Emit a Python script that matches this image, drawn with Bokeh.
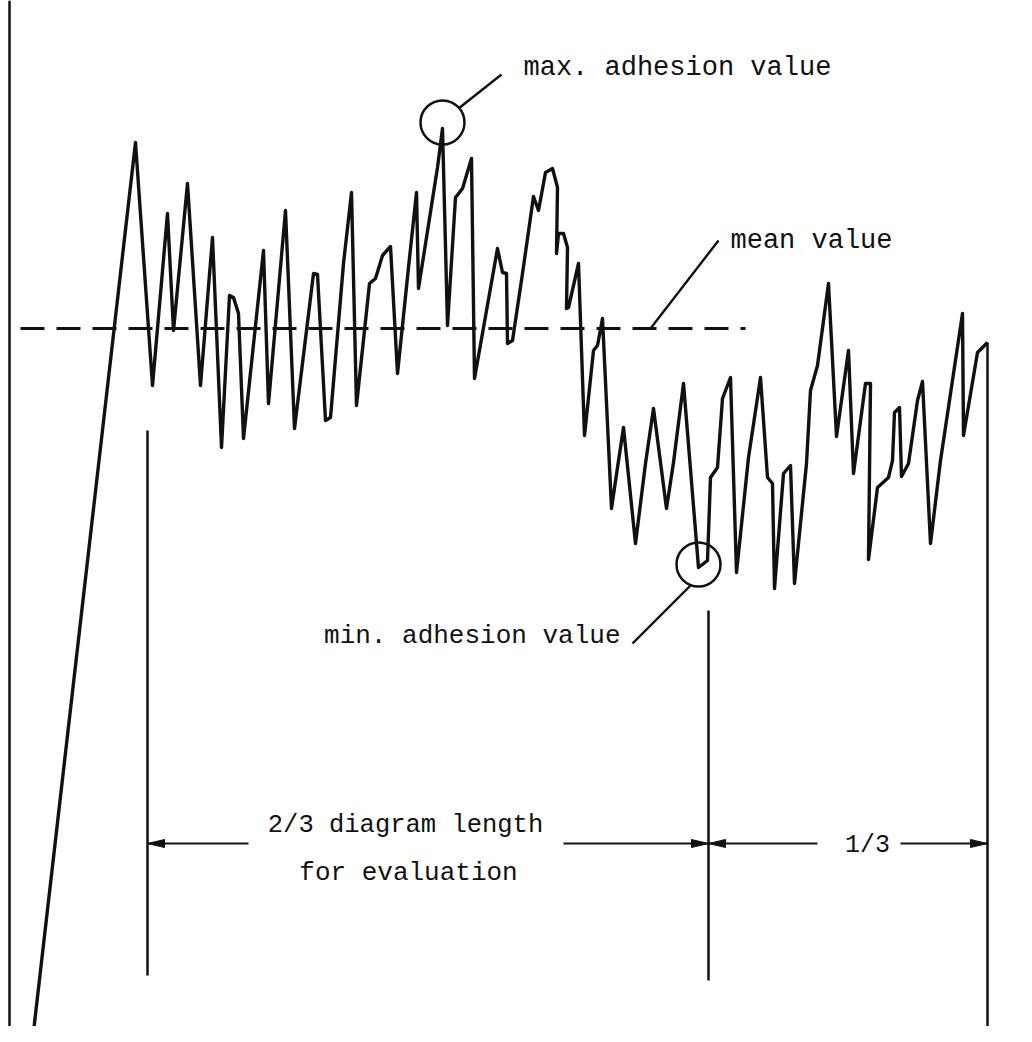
from bokeh.plotting import figure
from bokeh.models import Range1d, Label
from bokeh.embed import file_html
from bokeh.resources import INLINE

# ---------------- data (time / force, arbitrary units) ----------------
time = [32, 135, 152, 167, 173, 187, 200, 212, 221, 229, 233, 238, 243, 263, 268,
        285, 294, 313, 317, 325, 330, 343, 351, 356, 369, 375, 382, 390, 397, 408,
        416, 418, 437, 442, 447, 455, 462, 471, 474, 497, 502, 506, 507, 512, 522,
        533, 538, 545, 552, 557, 556, 558, 563, 567, 566, 568, 578, 584, 593, 597,
        602, 611, 617, 623, 635, 645, 653, 666, 673, 683, 698, 707, 710, 717, 722,
        730, 736, 748, 760, 767, 772, 774, 783, 790, 794, 806, 810, 817, 828, 836,
        848, 853, 865, 870, 868, 877, 888, 892, 894, 899, 901, 908, 917, 922, 930,
        940, 962, 963, 977, 987]
force = [2, 900, 657, 829, 712, 859, 657, 805, 595, 747, 745, 729, 604, 792, 639,
         832, 614, 769, 768, 622, 625, 779, 850, 637, 759, 764, 787, 796, 669, 775,
         850, 754, 875, 914, 717, 845, 854, 884, 664, 794, 770, 769, 699, 702, 769,
         846, 832, 870, 874, 855, 789, 809, 809, 795, 734, 735, 779, 607, 692, 697,
         724, 534, 575, 615, 499, 579, 634, 534, 580, 659, 475, 482, 565, 575, 644,
         665, 470, 585, 665, 565, 559, 454, 569, 577, 459, 579, 652, 677, 759, 606,
         692, 569, 659, 659, 483, 555, 565, 582, 630, 635, 566, 579, 642, 661, 499,
         582, 729, 607, 690, 700]

mean_force = 714          # mean adhesion value
eval_start = 147          # start of evaluated 2/3 of the diagram
eval_end = 708            # end of evaluated part
record_end = 987          # end of the diagram

labels_top = ["max. adhesion value", "mean value", "min. adhesion value"]
labels_bottom = ["2/3 diagram length", "for evaluation", "1/3"]

# ---------------- derived extremes in evaluation window ----------------
win = [i for i, t in enumerate(time) if eval_start <= t <= eval_end]
i_max = max(win, key=lambda i: force[i])
i_min = min(win, key=lambda i: force[i])

# ---------------- figure ----------------
W, H = 1016, 1026
p = figure(width=W, height=H, x_range=Range1d(0, 1016), y_range=Range1d(16, 1042),
           x_axis_type=None, y_axis_type=None, toolbar_location=None,
           output_backend="svg", min_border=0, outline_line_color=None,
           background_fill_color="white", border_fill_color="white")
p.grid.visible = False

INK = "#111111"
FONT = "Liberation Mono"

# vertical force axis
p.segment(x0=[9], y0=[0], x1=[9], y1=[1042], line_color=INK, line_width=2.5)

# mean value (dashed)
p.line(x=[20, 745], y=[mean_force, mean_force], line_color=INK, line_width=3,
       line_dash="24 12")

# adhesion trace
p.line(x=time, y=force, line_color=INK, line_width=3.4, line_join="round")

# end of record marker
p.segment(x0=[record_end], y0=[force[-1]], x1=[record_end], y1=[7],
          line_color=INK, line_width=2.5)
# evaluation window markers
p.segment(x0=[eval_start, eval_end], y0=[612, 432], x1=[eval_start, eval_end],
          y1=[67, 62], line_color=INK, line_width=2.5)

# circles around extremes
p.circle(x=[time[i_max], time[i_min]], y=[force[i_max] + 6, force[i_min] + 3],
         radius=22, fill_color=None, line_color=INK, line_width=2.5)

# leader lines
p.segment(x0=[458, 650, 690], y0=[934, mean_force, 457],
          x1=[501, 718, 632], y1=[968, 802, 399], line_color=INK, line_width=2.4)

# dimension arrows
arrow_y = 199
p.segment(x0=[eval_start, 563, 817, 900], y0=[arrow_y] * 4,
          x1=[248, eval_end, eval_end, record_end], y1=[arrow_y] * 4,
          line_color=INK, line_width=2.2)
tips = [(eval_start, -1), (eval_end, 1), (eval_end, -1), (record_end, 1)]
hl, hw = 17, 4
xs = [[tx, tx - d * hl, tx - d * hl] for tx, d in tips]
ys = [[arrow_y, arrow_y + hw, arrow_y - hw] for tx, d in tips]
p.patches(xs=xs, ys=ys, fill_color=INK, line_color=INK, line_width=1)

# texts
def lab(x, y, t, align, size="26px"):
    p.add_layout(Label(x=x, y=y, text=t, text_align=align, text_baseline="middle",
                       text_font=FONT, text_font_size=size, text_color=INK))

lab(523, 975, labels_top[0], "left", "27px")
lab(730, 802, labels_top[1], "left", "27px")
lab(620, 407, labels_top[2], "right", "26px")
lab(405, 217, labels_bottom[0], "center", "25.5px")
lab(408, 170, labels_bottom[1], "center", "26px")
lab(867, 197, labels_bottom[2], "center", "25px")

open("out.html", "w").write(file_html(p, INLINE))
